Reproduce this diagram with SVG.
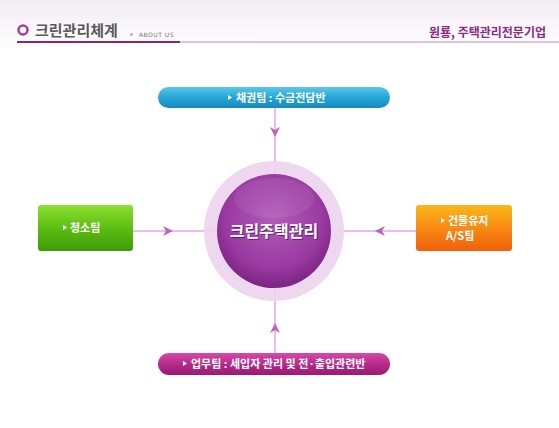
<svg xmlns="http://www.w3.org/2000/svg" width="559" height="428" viewBox="0 0 559 428">
<defs>
<linearGradient id="bg" x1="0" y1="0" x2="0" y2="1"><stop offset="0" stop-color="#f3ecf4"/><stop offset="0.12" stop-color="#ffffff"/></linearGradient>
<linearGradient id="blue" x1="0" y1="0" x2="0" y2="1"><stop offset="0" stop-color="#5cc8ea"/><stop offset="0.5" stop-color="#24a6d6"/><stop offset="1" stop-color="#1888be"/></linearGradient>
<linearGradient id="mag" x1="0" y1="0" x2="0" y2="1"><stop offset="0" stop-color="#d84aa8"/><stop offset="0.5" stop-color="#b52a8a"/><stop offset="1" stop-color="#9a1a74"/></linearGradient>
<linearGradient id="green" x1="0" y1="0" x2="0" y2="1"><stop offset="0" stop-color="#8ee030"/><stop offset="0.5" stop-color="#5cbf12"/><stop offset="1" stop-color="#3f9a08"/></linearGradient>
<linearGradient id="orange" x1="0" y1="0" x2="0" y2="1"><stop offset="0" stop-color="#fbb81a"/><stop offset="0.5" stop-color="#f88a12"/><stop offset="1" stop-color="#f0600c"/></linearGradient>
<radialGradient id="ball" cx="0.5" cy="0.4" r="0.6"><stop offset="0" stop-color="#b25cb8"/><stop offset="0.7" stop-color="#9a3aa2"/><stop offset="1" stop-color="#7a2482"/></radialGradient>
<marker id="ah" viewBox="0 0 10 10" refX="5" refY="5" markerWidth="10" markerHeight="10" markerUnits="userSpaceOnUse" orient="auto"><path d="M0,0 L10,5 L0,10 L3,5 Z" fill="#c060c0"/></marker>
</defs>
<style>
.ko{font-family:"Noto Sans CJK KR","Noto Sans",sans-serif}
.lbl{fill:#fff;font-size:11px;font-weight:bold}
.conn{stroke:#e2a8e6;stroke-width:1.5;fill:none}
.tri{fill:#fff}
</style>
<rect width="559" height="428" fill="url(#bg)"/>
<g id="header">
<circle cx="23" cy="30" r="4.5" fill="none" stroke="#a0409e" stroke-width="2.5"/>
<text x="35" y="36" class="ko" font-size="15" font-weight="bold" fill="#5a5a5a">크린관리체계</text>
<rect x="130" y="33" width="3" height="3" fill="#c8c0c8"/>
<text x="139" y="37" font-family="DejaVu Sans,sans-serif" font-size="6" fill="#807080" letter-spacing="0.5">ABOUT US</text>
<rect x="17" y="41" width="163" height="2" fill="#7a2a7a"/>
<rect x="180" y="41.5" width="379" height="1" fill="#c090c0"/>
<text x="546" y="37" text-anchor="end" class="ko" font-size="12" font-weight="bold" fill="#8a2a86">원룡, 주택관리전문기업</text>
</g>
<g id="connectors">
<line class="conn" x1="275" y1="108" x2="275" y2="353"/>
<line class="conn" x1="133" y1="231" x2="416" y2="231"/>
<line x1="275" y1="120" x2="275" y2="132" stroke="none" marker-end="url(#ah)"/>
<line x1="275" y1="340" x2="275" y2="328" stroke="none" marker-end="url(#ah)"/>
<line x1="155" y1="231" x2="168" y2="231" stroke="none" marker-end="url(#ah)"/>
<line x1="393" y1="231" x2="380" y2="231" stroke="none" marker-end="url(#ah)"/>
</g>
<g id="center">
<circle cx="274" cy="231" r="70" fill="#ecd4ee" opacity="0.9"/>
<circle cx="274" cy="231" r="57" fill="url(#ball)"/>
<ellipse cx="274" cy="198" rx="40" ry="20" fill="#ffffff" opacity="0.07"/>
<text x="275" y="238" text-anchor="middle" class="ko" font-size="16" font-weight="bold" fill="#4a0c50" opacity="0.7">크린주택관리</text>
<text x="274" y="237" text-anchor="middle" class="ko" font-size="16" font-weight="bold" fill="#fff">크린주택관리</text>
</g>
<g id="top">
<rect x="158" y="87" width="232" height="21" rx="10.5" fill="url(#blue)"/>
<path d="M228,95 L232,97.5 L228,100 Z" class="tri"/>
<text x="236" y="102" class="ko lbl">채권팀 : 수금전담반</text>
</g>
<g id="bottom">
<rect x="158" y="353" width="232" height="22" rx="11" fill="url(#mag)"/>
<path d="M183,361 L187,363.5 L183,366 Z" class="tri"/>
<text x="191" y="368" class="ko lbl">업무팀 : 세입자 관리 및 전·출입관련반</text>
</g>
<g id="left">
<rect x="38" y="205" width="95" height="46" rx="3" fill="url(#green)"/>
<path d="M63,225 L67,227.5 L63,230 Z" class="tri"/>
<text x="70" y="232" class="ko lbl">청소팀</text>
</g>
<g id="right">
<rect x="416" y="205" width="96" height="46" rx="3" fill="url(#orange)"/>
<path d="M441,218 L445,220.5 L441,223 Z" class="tri"/>
<text x="448" y="225" class="ko lbl">건물유지</text>
<text x="446" y="240" class="ko lbl">A/S팀</text>
</g>
</svg>
